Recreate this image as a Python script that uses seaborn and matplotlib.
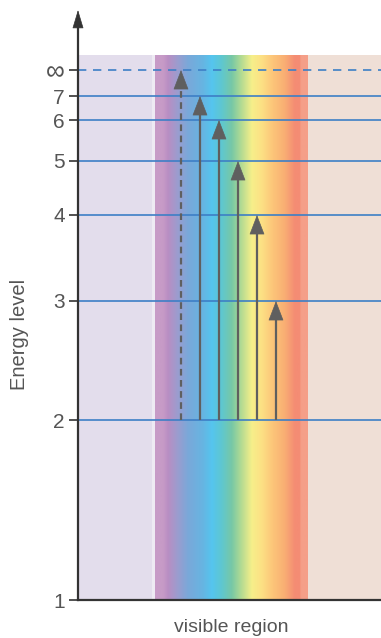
import numpy as np
import pandas as pd
import matplotlib
matplotlib.use("Agg")
import matplotlib.pyplot as plt
import seaborn as sns
from matplotlib.colors import LinearSegmentedColormap

# ---- data ----
level_labels = ["1", "2", "3", "4", "5", "6", "7", "∞"]
level_energy = [0, 180, 299, 385, 439, 480, 504, 530]   # schematic energy scale
transition_x = [103, 122, 141, 160, 179, 198]           # horizontal spread of transitions
transition_upper = ["∞", "7", "6", "5", "4", "3"]
transition_lower = "2"
uv_span = [0, 74]
visible_span = [77, 230]
ir_span = [230, 303]
band_top = 545

# ---- style ----
sns.set_style("white")
plt.rcParams["font.family"] = ["Liberation Sans", "DejaVu Sans"]
text_col = "#555555"
line_blue = "#3d7fc6"
arrow_col = "#5f5f5f"
axis_col = "#333333"

fig = plt.figure(figsize=(3.81, 6.38), dpi=100)
ax = fig.add_axes([78 / 381, 38 / 638, 303 / 381, 590 / 638])

e = dict(zip(level_labels, level_energy))

# background regions
ax.fill_between(uv_span, 0, band_top, color="#e3ddec", lw=0, zorder=0)
ax.fill_between([uv_span[1], visible_span[0]], 0, band_top, color="#eeeaf3",
                lw=0, zorder=0)
ax.fill_between(ir_span, 0, band_top, color="#efdfd6", lw=0, zorder=0)
stops = [(77, "#c79bc7"), (85, "#c79bc7"), (90, "#b98ec3"), (100, "#9a9dcf"),
         (110, "#7aa8d9"), (125, "#66b5e2"), (134, "#55c5ef"), (144, "#5fc7cf"),
         (154, "#78c8a5"), (164, "#b7dc92"), (174, "#f6ef8a"), (184, "#fde084"),
         (195, "#fcc579"), (207, "#f9ae73"), (217, "#f48c74"), (222, "#f48c74"),
         (223, "#f59f88"), (230, "#f59f88")]
x0, x1 = visible_span
cmap = LinearSegmentedColormap.from_list(
    "spec", [((p - x0) / (x1 - x0), c) for p, c in stops], N=512)
grad = np.linspace(0, 1, 512)[None, :]
ax.imshow(grad, cmap=cmap, aspect="auto", extent=[x0, x1, 0, band_top],
          interpolation="bilinear", zorder=0.5)

# energy level lines
rows = []
for lab in level_labels[1:]:
    for xx in (0, 303):
        rows.append({"x": xx, "y": e[lab], "level": lab})
df = pd.DataFrame(rows)
solid = df[df.level != "∞"]
sns.lineplot(data=solid, x="x", y="y", units="level", estimator=None,
             color=line_blue, lw=1.2, ax=ax, zorder=2)
dashed = df[df.level == "∞"]
sns.lineplot(data=dashed, x="x", y="y", estimator=None, color=line_blue,
             lw=1.2, ax=ax, zorder=2, dashes=False)
ax.lines[-1].set_dashes([5, 4])

# transitions
for xx, up in zip(transition_x, transition_upper):
    y0 = e[transition_lower]
    y1 = e[up]
    ls = (0, (3, 2)) if up == "∞" else "-"
    ax.plot([xx, xx], [y0, y1 - 10], color=arrow_col, lw=1.6, ls=ls,
            solid_capstyle="butt", zorder=3)
    ax.annotate("", xy=(xx, y1), xytext=(xx, y1 - 12),
                arrowprops=dict(arrowstyle="-|>,head_length=0.65,head_width=0.25",
                                mutation_scale=20, color=arrow_col, lw=0.5,
                                shrinkA=0, shrinkB=0), zorder=4)

ax.set_xlim(0, 303)
ax.set_ylim(0, 590)
ax.set_xlabel("")
ax.set_ylabel("")

# axes
for s in ["top", "right"]:
    ax.spines[s].set_visible(False)
for s in ["left", "bottom"]:
    ax.spines[s].set_color(axis_col)
    ax.spines[s].set_linewidth(1.6)
ax.spines["left"].set_bounds(0, 578)
ax.annotate("", xy=(0, 590), xytext=(0, 575),
            arrowprops=dict(arrowstyle="-|>,head_length=0.6,head_width=0.18",
                            mutation_scale=20, color=axis_col, lw=0.5,
                            shrinkA=0, shrinkB=0), annotation_clip=False)

ax.set_xticks([])
ax.set_yticks(level_energy)
ax.set_yticklabels(level_labels)
ax.tick_params(axis="y", direction="out", length=6.5, width=1.2, color=axis_col,
               labelsize=15, labelcolor=text_col, pad=3, left=True)
for t in ax.get_yticklabels():
    if t.get_text() == "∞":
        t.set_fontsize(19)

ax.text(153.5, -19, "visible region", ha="center", va="top", fontsize=14,
        color=text_col, clip_on=False)
fig.text(20 / 381, 1 - 334 / 638, "Energy level", rotation=90, ha="center",
         va="center", fontsize=14.5, color=text_col)

fig.savefig("out.png", dpi=100)
